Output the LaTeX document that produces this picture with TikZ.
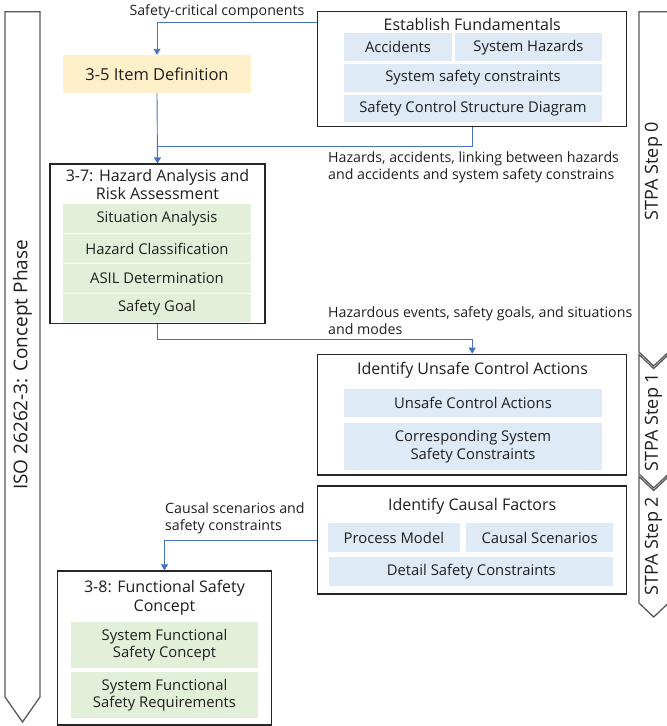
\documentclass[tikz,border=0pt]{standalone}
\usepackage{fontspec}
\setmainfont{Open Sans}
\usetikzlibrary{arrows.meta}
\definecolor{linkblue}{HTML}{4472C4}
\definecolor{stpafill}{HTML}{DEEAF6}
\definecolor{isofill}{HTML}{E2F0D9}
\definecolor{itemfill}{HTML}{FFF0C9}
\definecolor{framegray}{HTML}{262626}
\definecolor{chevgray}{HTML}{595959}
\definecolor{ink}{HTML}{1F1F1F}

\begin{document}
\begin{tikzpicture}[x=1pt,y=-1pt,
  every node/.style={text=ink, inner sep=0pt, font=\fontsize{14.8}{17.5}\selectfont},
  group/.style={draw=framegray, line width=1.3pt, fill=white},
  stpacell/.style={fill=stpafill, align=center},
  isocell/.style={fill=isofill, align=center},
  heading/.style={font=\fontsize{16}{18.7}\selectfont, align=center},
  note/.style={align=left, anchor=west, font=\fontsize{14.2}{17}\selectfont},
  phase/.style={draw=chevgray, line width=1.3pt, fill=white},
  phasetext/.style={rotate=90, font=\fontsize{18}{20}\selectfont},
  link/.style={draw=linkblue, line width=0.9pt},
  linkarrow/.style={link, -{Triangle[width=7pt,length=6pt]}}
]
\useasboundingbox (0,0) rectangle (667,726);
\clip (0,0) rectangle (667,726);

% ---------- phase bars ----------
\draw[phase] (5,11.7) -- (40,11.7) -- (40,697) -- (22.5,722) -- (5,697) -- cycle;
\node[phasetext, font=\fontsize{19}{21}\selectfont] (isolabel) at (22.5,365) {ISO 26262-3: Concept Phase};

\draw[phase] (639,11.7) -- (668.5,11.7) -- (668.5,352) -- (653.7,366) -- (639,352) -- cycle;
\draw[phase] (639,354.5) -- (653.7,368.5) -- (668.5,354.5) -- (668.5,474) -- (653.7,488) -- (639,474) -- cycle;
\draw[phase] (639,476.5) -- (653.7,490.5) -- (668.5,476.5) -- (668.5,603) -- (653.7,617) -- (639,603) -- cycle;
\node[phasetext] (step0) at (653.5,171) {STPA Step 0};
\node[phasetext] (step1) at (653.5,422) {STPA Step 1};
\node[phasetext] (step2) at (653.5,546) {STPA Step 2};

% ---------- Establish Fundamentals ----------
\node[group, minimum width=309pt, minimum height=115pt] (estab) at (472.2,69.2) {};
\node[heading] (estabT) at (472.2,24) {Establish Fundamentals};
\node[stpacell, minimum width=107.4pt, minimum height=27.7pt] (acc) at (398,47.2) {Accidents};
\node[stpacell, minimum width=146.7pt, minimum height=27.7pt] (syshaz) at (528.4,47.2) {System Hazards};
\node[stpacell, minimum width=257.4pt, minimum height=27.5pt] (ssc) at (473,77.9) {System safety constraints};
\node[stpacell, minimum width=257.4pt, minimum height=27.5pt] (scsd) at (473,108.7) {Safety Control Structure Diagram};

% ---------- 3-5 Item Definition ----------
\node[fill=itemfill, minimum width=188pt, minimum height=38pt, font=\fontsize{16.5}{20}\selectfont] (item) at (157,74) {3-5 Item Definition};

% ---------- 3-7 HARA ----------
\node[group, minimum width=215pt, minimum height=159.3pt] (haz) at (157.5,243.7) {};
\node[heading] (hazT) at (157.5,184.5) {3-7: Hazard Analysis and\\Risk Assessment};
\node[isocell, minimum width=187.4pt, minimum height=28.4pt] (sit) at (157,218.5) {Situation Analysis};
\node[isocell, minimum width=187.4pt, minimum height=28.4pt] (hcl) at (157,248.5) {Hazard Classification};
\node[isocell, minimum width=187.4pt, minimum height=28.4pt] (asil) at (157,278.5) {ASIL Determination};
\node[isocell, minimum width=187.4pt, minimum height=27.4pt] (goal) at (157,308) {Safety Goal};

% ---------- Identify Unsafe Control Actions ----------
\node[group, minimum width=309pt, minimum height=120.7pt] (uca) at (472.2,414.7) {};
\node[heading] (ucaT) at (472.5,370) {Identify Unsafe Control Actions};
\node[stpacell, minimum width=257.4pt, minimum height=27.7pt] (ucaA) at (473,402.9) {Unsafe Control Actions};
\node[stpacell, minimum width=257.4pt, minimum height=46.7pt] (ucaC) at (473,446.7) {Corresponding System\\Safety Constraints};

% ---------- Identify Causal Factors ----------
\node[group, minimum width=309pt, minimum height=108pt] (causal) at (472.2,540) {};
\node[heading] (causalT) at (472.2,506.7) {Identify Causal Factors};
\node[stpacell, minimum width=132.3pt, minimum height=28.4pt] (pm) at (393.9,537.5) {Process Model};
\node[stpacell, minimum width=147.3pt, minimum height=28.4pt] (cs) at (539.7,537.5) {Causal Scenarios};
\node[stpacell, minimum width=284pt, minimum height=28.7pt] (dsc) at (471.3,571.7) {Detail Safety Constraints};

% ---------- 3-8 Functional Safety Concept ----------
\node[group, minimum width=214.4pt, minimum height=154pt] (fsc) at (164.5,648) {};
\node[heading] (fscT) at (164.5,597.5) {3-8: Functional Safety\\Concept};
\node[isocell, minimum width=187.6pt, minimum height=46.6pt] (sfsc) at (164.5,645) {System Functional\\Safety Concept};
\node[isocell, minimum width=187.6pt, minimum height=46.6pt] (sfsr) at (164.5,695) {System Functional\\Safety Requirements};

% ---------- connector labels ----------
\node (lblA) at (217,12) [font=\fontsize{14.2}{17}\selectfont] {Safety-critical components};
\node[note] (lblB) at (328,167.5) {Hazards, accidents, linking between hazards\\and accidents and system safety constrains};
\node[note] (lblC) at (328,321) {Hazardous events, safety goals, and situations\\and modes};
\node[note] (lblD) at (165,518.7) {Causal scenarios and\\safety constraints};

% ---------- connectors ----------
\coordinate (rowA) at (0,22.7);
\coordinate (rowB) at (0,146);
\path[linkarrow] (estab.west |- rowA) -| (item.north);
\path[linkarrow] (item.south) -- (haz.north);
\path[link] (estab.south) |- (item.south |- rowB);
\path[linkarrow] (haz.south) -- ++(0,15) -| (uca.north);
\path[linkarrow] (causal.west) -| (fsc.north);
\end{tikzpicture}
\end{document}
